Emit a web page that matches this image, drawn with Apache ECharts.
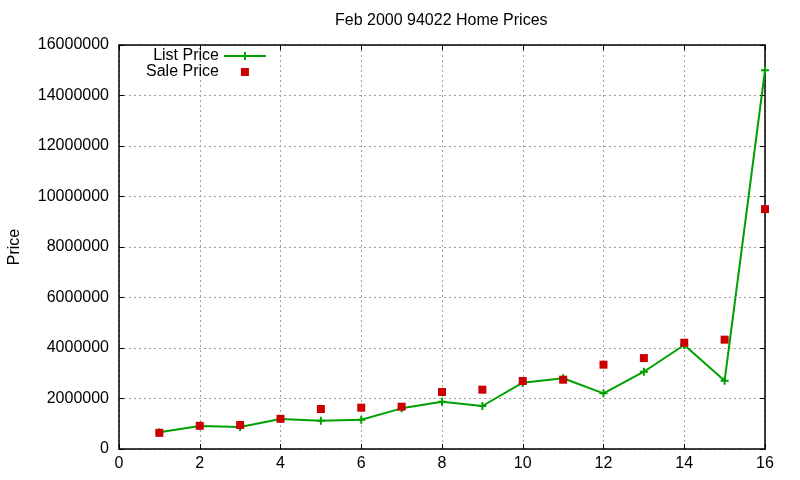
<!DOCTYPE html>
<html>
<head>
<meta charset="utf-8">
<script src="https://cdn.jsdelivr.net/npm/echarts@6/dist/echarts.min.js"></script>
<style>html,body{margin:0;padding:0;background:#fff}#chart{width:800px;height:480px}</style>
</head>
<body>
<div id="chart"></div>
<script>
const xValues = [1, 2, 3, 4, 5, 6, 7, 8, 9, 10, 11, 12, 13, 14, 15, 16];
const listPrice = [660000, 911000, 871000, 1185000, 1120000, 1160000, 1610000, 1873000, 1703000, 2626000, 2800000, 2205000, 3060000, 4120000, 2705000, 15000000];
const salePrice = [640000, 920000, 950000, 1195000, 1584000, 1636000, 1675000, 2257000, 2350000, 2693000, 2745000, 3340000, 3600000, 4210000, 4330000, 9500000];
const yTicks = { min: 0, max: 16000000, interval: 2000000 };
const xTicks = { min: 0, max: 16, interval: 2 };

const font = 'Liberation Sans, Arial, sans-serif';
const chart = echarts.init(document.getElementById('chart'), null, { renderer: 'canvas' });

const gridLine = { show: true, lineStyle: { color: '#a0a0a0', type: [2, 3], width: 1 } };
const axisLine = { show: true, onZero: false, lineStyle: { color: '#000', width: 1.5 } };
const tick = { show: true, inside: true, length: 5, lineStyle: { color: '#000', width: 1 } };
const plain = v => String(v);

chart.setOption({
  animation: false,
  backgroundColor: '#fff',
  title: {
    text: 'Feb 2000 94022 Home Prices',
    left: 335, top: 13, padding: 0,
    textStyle: { fontFamily: font, fontSize: 16, fontWeight: 'normal', color: '#000' }
  },
  legend: {
    orient: 'vertical',
    align: 'right',
    left: 146, top: 48, padding: 0,
    itemGap: 0,
    itemWidth: 42, itemHeight: 10,
    textStyle: { fontFamily: font, fontSize: 16, color: '#000', lineHeight: 15 },
    data: ['List Price', 'Sale Price']
  },
  grid: { left: 119, right: 35, top: 45, bottom: 31, containLabel: false, outerBoundsMode: 'none' },
  xAxis: [{
    type: 'value', min: xTicks.min, max: xTicks.max, interval: xTicks.interval,
    axisLine: axisLine, axisTick: tick, splitLine: gridLine,
    axisLabel: { margin: 7, fontFamily: font, fontSize: 16, color: '#000', formatter: plain }
  }, {
    type: 'value', position: 'top', min: xTicks.min, max: xTicks.max, interval: xTicks.interval,
    axisLine: axisLine, axisTick: tick, splitLine: { show: false }, axisLabel: { show: false }
  }],
  yAxis: [{
    type: 'value', min: yTicks.min, max: yTicks.max, interval: yTicks.interval,
    name: 'Price', nameLocation: 'middle', nameGap: 96,
    nameTextStyle: { fontFamily: font, fontSize: 16, color: '#000' },
    axisLine: axisLine, axisTick: tick, splitLine: gridLine,
    axisLabel: { margin: 10, fontFamily: font, fontSize: 16, color: '#000', formatter: plain }
  }, {
    type: 'value', position: 'right', min: yTicks.min, max: yTicks.max, interval: yTicks.interval,
    axisLine: axisLine, axisTick: tick, splitLine: { show: false }, axisLabel: { show: false }
  }],
  series: [{
    name: 'List Price',
    type: 'line',
    data: xValues.map((x, i) => [x, listPrice[i]]),
    symbol: 'path://M3,0H5V8H3ZM0,3H8V5H0Z',
    symbolSize: 8,
    showAllSymbol: true,
    itemStyle: { color: '#00a000' },
    lineStyle: { color: '#00a000', width: 2 },
    z: 2
  }, {
    name: 'Sale Price',
    type: 'line',
    data: xValues.map((x, i) => [x, salePrice[i]]),
    symbol: 'rect',
    symbolSize: 8,
    showAllSymbol: true,
    itemStyle: { color: '#cc0000' },
    lineStyle: { width: 0, opacity: 0 },
    z: 3
  }]
});
</script>
</body>
</html>
